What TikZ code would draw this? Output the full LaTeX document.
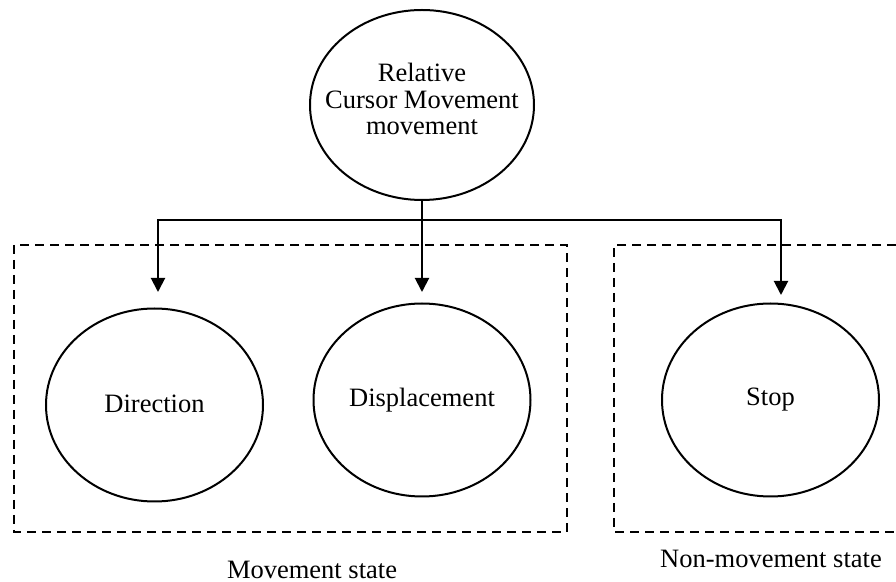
\documentclass[tikz,border=0pt]{standalone}
\usepackage{fontspec}
\setmainfont{Liberation Serif}
\usetikzlibrary{shapes.geometric,arrows.meta}

\begin{document}
\begin{tikzpicture}[x=0.5pt,y=-0.5pt,
    state/.style={draw, ellipse, line width=1pt, inner sep=0pt, align=center,
        minimum width=108.5pt, minimum height=96.5pt, font=\fontsize{13.25}{13.25}\selectfont},
    link/.style={-{Triangle[length=7pt,width=7pt]}, line width=1pt},
    group/.style={line width=1pt, dash pattern=on 4.5pt off 3pt},
    caption/.style={font=\fontsize{13.25}{13.25}\selectfont}]
                \useasboundingbox (0,0) rectangle (896,582);

                % Root of the tree
                \node[state, minimum width=112pt, minimum height=95pt,
                    label={[caption, align=center, yshift=3pt]center:Relative\\Cursor Movement\\movement}] (rcm) at (422,105) {};

                % Movement states
                \node[state] (dir) at (154.5,405) {\raisebox{1.5pt}{Direction}};
                \node[state] (disp) at (422,400) {Displacement};

                % Non-movement state
                \node[state] (stop) at (770.5,400) {Stop};

                % Branch points
                \coordinate (bus) at (422,220);
                \coordinate (dirin) at (158,292);
                \coordinate (dispin) at (422,292);
                \coordinate (stopin) at (781,295);

                % Connections
                \draw[line width=1pt] (rcm.south) -- (bus);
                \draw[link] (bus) -| (dirin);
                \draw[link] (bus) -- (dispin);
                \draw[link] (bus) -| (stopin);

                % State groups
                \draw[group] (14,245) rectangle (567,532);
                \draw[group] (896,245) -- (614,245) -- (614,532) -- (896,532);
                \node[caption] (movecap) at (312,570) {Movement state};
                \node[caption] (stopcap) at (771,559) {Non-movement state};
            \end{tikzpicture}
\end{document}
